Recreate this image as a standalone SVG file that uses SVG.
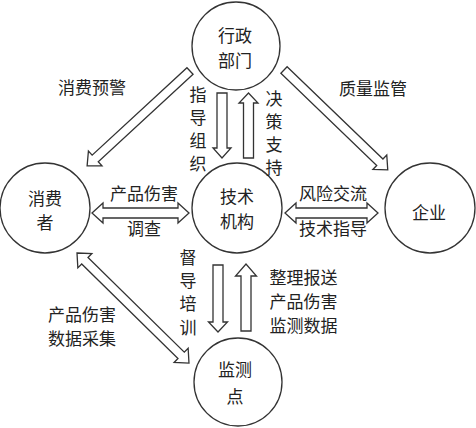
<svg xmlns="http://www.w3.org/2000/svg" width="476" height="428" viewBox="0 0 476 428">
<style>
.n{fill:#fff;stroke:#333;stroke-width:1.3}
.a{fill:#fff;stroke:#333;stroke-width:1.3;stroke-linejoin:miter}
text{font-family:"Noto Sans CJK SC","Noto Sans CJK JP",sans-serif;font-size:17px;fill:#222;text-anchor:middle;dominant-baseline:central}
</style>
<rect width="476" height="428" fill="#fff"/>
<g id="connectors">
<!-- 消费预警 -->
<path class="a" transform="translate(190,71) rotate(137.3)" d="M0,-4.5 H129 V-10 L140,0 L129,10 V4.5 H0 Z"/>
<!-- 质量监管 -->
<path class="a" transform="translate(284,70) rotate(43.9)" d="M0,-4.5 H133 V-10 L144,0 L133,10 V4.5 H0 Z"/>
<!-- 指导组织 down -->
<path class="a" transform="translate(222,93) rotate(90)" d="M0,-5 H55 V-9 L65,0 L55,9 V5 H0 Z"/>
<!-- 决策支持 up -->
<path class="a" transform="translate(248.5,158) rotate(-90)" d="M0,-5 H55 V-9.5 L65,0 L55,9.5 V5 H0 Z"/>
<!-- 督导培训 down -->
<path class="a" transform="translate(218,265) rotate(90)" d="M0,-5 H57 V-9.5 L67,0 L57,9.5 V5 H0 Z"/>
<!-- 整理报送 up -->
<path class="a" transform="translate(246,331) rotate(-90)" d="M0,-5 H55 V-10.5 L67,0 L55,10.5 V5 H0 Z"/>
<!-- 消费者 <-> 技术机构 -->
<path class="a" d="M92,213 L103,203 V208 H178 V203 L189,213 L178,223 V218 H103 V223 Z"/>
<!-- 技术机构 <-> 企业 -->
<path class="a" d="M285,213 L296,203 V208 H367 V203 L378,213 L367,223 V218 H296 V223 Z"/>
<!-- 消费者 <-> 监测点 -->
<path class="a" transform="translate(77,253) rotate(44.5)" d="M0,0 L11,-10 V-4.5 H146 V-10 L157,0 L146,10 V4.5 H11 V10 Z"/>
</g>
<g id="node-xingzheng"><circle class="n" cx="236" cy="46" r="44"/><text x="235" y="34">行政</text><text x="235" y="59">部门</text></g>
<g id="node-jishu"><circle class="n" cx="237" cy="208" r="45"/><text x="237" y="195">技术</text><text x="237" y="220">机构</text></g>
<g id="node-xiaofeizhe"><circle class="n" cx="45" cy="208" r="45"/><text x="45" y="197">消费</text><text x="45" y="221">者</text></g>
<g id="node-qiye"><circle class="n" cx="430" cy="208" r="45"/><text x="429" y="211">企业</text></g>
<g id="node-jiancedian"><circle class="n" cx="238" cy="382" r="44"/><text x="235" y="368">监测</text><text x="235" y="395">点</text></g>
<g id="labels">
<text x="92" y="86">消费预警</text>
<text x="373" y="87">质量监管</text>
<text x="198" y="93">指</text><text x="198" y="116">导</text><text x="198" y="139">组</text><text x="198" y="162">织</text>
<text x="274" y="97">决</text><text x="274" y="120">策</text><text x="274" y="143">支</text><text x="274" y="166">持</text>
<text x="144" y="192">产品伤害</text><text x="144" y="227">调查</text>
<text x="333" y="192">风险交流</text><text x="333" y="227">技术指导</text>
<text x="188" y="256">督</text><text x="188" y="279">导</text><text x="188" y="302">培</text><text x="188" y="326">训</text>
<text x="303.5" y="276">整理报送</text><text x="303.5" y="300">产品伤害</text><text x="303.5" y="324">监测数据</text>
<text x="82" y="313">产品伤害</text><text x="82" y="337">数据采集</text>
</g>
</svg>
